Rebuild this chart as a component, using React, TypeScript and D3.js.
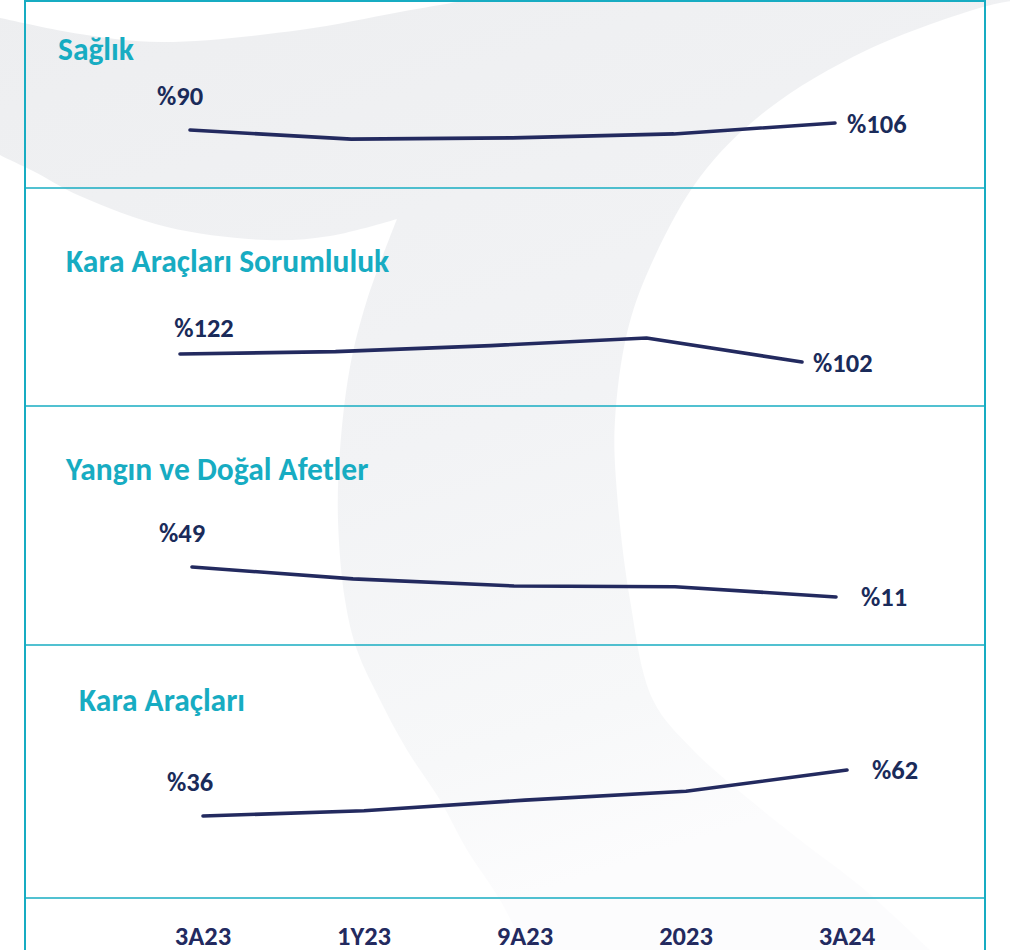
import React from "react";
import * as d3 from "d3";

// ---------- data ----------
const categories = ["3A23", "1Y23", "9A23", "2023", "3A24"];
const panelTitles = ["Sağlık", "Kara Araçları Sorumluluk", "Yangın ve Doğal Afetler", "Kara Araçları"];
const saglik = [90, 69, 72, 81, 106];
const karaSorumluluk = [122, 128, 143, 162, 102];
const yangin = [49, 34, 25, 24, 11];
const karaAraclari = [36, 39, 45, 50, 62];
const seriesList = [saglik, karaSorumluluk, yangin, karaAraclari];

// ---------- layout ----------
const W = 1010;
const H = 950;
const FRAME_L = 25;
const FRAME_R = 985;
const DIVIDERS = [188, 406, 645, 898];

const TEAL = "#17acc2";
const NAVY = "#232a5f";
const LABEL_NAVY = "#1a2b5a";
const FONT = "Carlito, Calibri, Lato, 'Open Sans', sans-serif";
const TITLE_SIZE = 31.5;
const VALUE_SIZE = 26.5;
const AXIS_SIZE = 26.5;

const panels = [
  { x: [190, 835], dom: [60, 110], rng: [143.1, 121.25], title: [58, 60], sdx: -10, sdy: -25, edx: 12, edy: 10 },
  { x: [180, 802], dom: [100, 165], rng: [362.8, 336.8], title: [66, 272], sdx: 24, sdy: -17, edx: 11, edy: 10 },
  { x: [192, 836], dom: [10, 50], rng: [597.8, 566.2], title: [66, 480], sdx: -10, sdy: -25, edx: 25, edy: 9 },
  { x: [203, 847], dom: [35, 65], rng: [817.8, 764.7], title: [79, 711], sdx: -13, sdy: -25, edx: 25, edy: 9 },
];
const AXIS_X = [203, 847];
const AXIS_BASE = 945;

// background swoosh outline (decoration)
const outerEdge: [number, number][] = [
  [1012, 1], [983, 7], [867, 50], [767, 110], [700, 177], [650, 267], [627, 333],
  [615, 420], [616, 480], [630, 600], [653, 700], [693, 750], [750, 800], [800, 840], [865, 890], [935, 955],
];
const innerEdge: [number, number][] = [
  [528, 955], [500, 900], [467, 850], [440, 800], [407, 750], [380, 700], [357, 650], [345, 600],
  [338, 520], [340, 450], [350, 367], [367, 300], [397, 219],
];
const innerTail: [number, number][] = [
  [397, 219], [330, 236], [267, 240], [167, 227], [80, 196], [33, 171], [0, 155], [-10, 149],
];
const topEdge: [number, number][] = [[-10, 16], [0, 18], [80, 34], [161, 42], [300, 30], [400, 12], [480, -2]];

function swooshPath() {
  const cr = d3.line().curve(d3.curveCatmullRom.alpha(0.5));
  const seg = (pts: [number, number][]) => (cr(pts) || "").replace(/^M[^CL]*/, "");
  const p1 = cr(topEdge) || "";
  const p2 = `L${outerEdge[0][0]},${outerEdge[0][1]}` + seg(outerEdge);
  const p3 = `L${innerEdge[0][0]},${innerEdge[0][1]}` + seg(innerEdge);
  const p4 = seg(innerTail);
  return `${p1}L1012,-2${p2}${p3}${p4}Z`;
}

export default function App() {
  const xAxis = d3.scalePoint<string>().domain(categories).range(AXIS_X as [number, number]);

  return (
    <svg
      width={W}
      height={H}
      viewBox={`0 0 ${W} ${H}`}
      style={{ position: "absolute", left: 0, top: 0, background: "#fff" }}
    >
      <defs>
        <linearGradient id="swg" x1="0" y1="0" x2="0.35" y2="1">
          <stop offset="0" stopColor="#edeef0" />
          <stop offset="0.55" stopColor="#f2f3f5" />
          <stop offset="0.85" stopColor="#f7f8f9" />
          <stop offset="1" stopColor="#fcfcfd" />
        </linearGradient>
      </defs>
      <rect x={0} y={0} width={W} height={H} fill="#ffffff" />
      <path d={swooshPath()} fill="url(#swg)" />

      {/* frame */}
      <line x1={FRAME_L} x2={FRAME_L} y1={0} y2={H} stroke={TEAL} strokeWidth={2} />
      <line x1={FRAME_R} x2={FRAME_R} y1={0} y2={H} stroke={TEAL} strokeWidth={2} />
      <line x1={FRAME_L} x2={FRAME_R} y1={1} y2={1} stroke={TEAL} strokeWidth={2} />
      {DIVIDERS.map((y, i) => (
        <line key={i} x1={FRAME_L} x2={FRAME_R} y1={y} y2={y} stroke={TEAL} strokeWidth={1.6} />
      ))}

      {panels.map((p, i) => {
        const values = seriesList[i];
        const x = d3.scalePoint<string>().domain(categories).range(p.x as [number, number]);
        const y = d3.scaleLinear().domain(p.dom).range(p.rng);
        const line = d3
          .line<number>()
          .x((_, j) => x(categories[j]) as number)
          .y((v) => y(v));
        const n = values.length;
        const sx = x(categories[0]) as number;
        const sy = y(values[0]);
        const ex = x(categories[n - 1]) as number;
        const ey = y(values[n - 1]);
        return (
          <g key={i}>
            <text
              x={p.title[0]}
              y={p.title[1]}
              fill={TEAL}
              fontFamily={FONT}
              fontWeight={700}
              fontSize={TITLE_SIZE}
            >
              {panelTitles[i]}
            </text>
            <path
              d={line(values) || ""}
              fill="none"
              stroke={NAVY}
              strokeWidth={3.6}
              strokeLinecap="round"
              strokeLinejoin="round"
            />
            <text
              x={sx + p.sdx}
              y={sy + p.sdy}
              textAnchor="middle"
              fill={LABEL_NAVY}
              fontFamily={FONT}
              fontWeight={700}
              fontSize={VALUE_SIZE}
            >
              {"%" + values[0]}
            </text>
            <text
              x={ex + p.edx}
              y={ey + p.edy}
              textAnchor="start"
              fill={LABEL_NAVY}
              fontFamily={FONT}
              fontWeight={700}
              fontSize={VALUE_SIZE}
            >
              {"%" + values[n - 1]}
            </text>
          </g>
        );
      })}

      {categories.map((c) => (
        <text
          key={c}
          x={xAxis(c)}
          y={AXIS_BASE}
          textAnchor="middle"
          fill={NAVY}
          fontFamily={FONT}
          fontWeight={700}
          fontSize={AXIS_SIZE}
        >
          {c}
        </text>
      ))}
    </svg>
  );
}
